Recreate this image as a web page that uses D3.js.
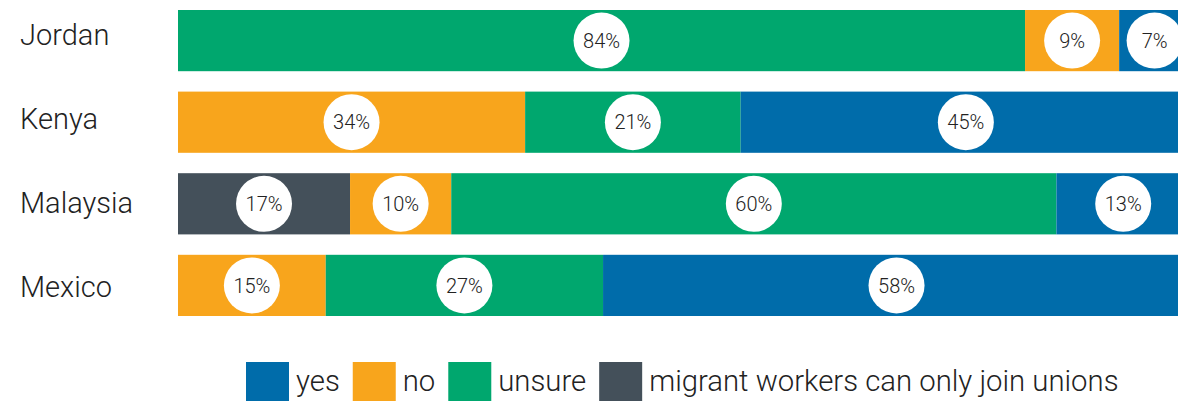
<!DOCTYPE html>
<html>
<head>
<meta charset="utf-8">
<script src="https://cdn.jsdelivr.net/npm/d3@7"></script>
<style>
  body { margin: 0; background: #fff; }
  svg { display: block; font-family: Roboto, "Noto Sans", sans-serif; }
</style>
</head>
<body>
<div id="chart"></div>
<script>
// Data (share of respondents, per country)
const countries = ["Jordan", "Kenya", "Malaysia", "Mexico"];
const keyNames = { yes: "yes", no: "no", unsure: "unsure", migrant: "migrant workers can only join unions" };
// segment order in each bar, left to right
const order = {
  Jordan: ["unsure", "no", "yes"],
  Kenya: ["no", "unsure", "yes"],
  Malaysia: ["migrant", "no", "unsure", "yes"],
  Mexico: ["no", "unsure", "yes"]
};
const yesValues = [7.0, 44.5, 13.2, 58.0];
const noValues = [9.3, 34.3, 10.0, 14.6];
const unsureValues = [83.7, 21.3, 59.8, 27.4];
const migrantValues = [0, 0, 17.0, 0];
const yesLabels = ["7%", "45%", "13%", "58%"];
const noLabels = ["9%", "34%", "10%", "15%"];
const unsureLabels = ["84%", "21%", "60%", "27%"];
const migrantLabels = ["", "", "17%", ""];
const legendOrder = ["yes", "no", "unsure", "migrant"];

const colors = { yes: "#006caa", no: "#f8a51c", unsure: "#00a76e", migrant: "#44505a" };

const width = 1178, height = 401;

const svg = d3.select("#chart")
  .append("svg")
    .attr("width", width)
    .attr("height", height);

const vals = { yes: yesValues, no: noValues, unsure: unsureValues, migrant: migrantValues };
const labs = { yes: yesLabels, no: noLabels, unsure: unsureLabels, migrant: migrantLabels };

// build segments
const segs = [];
countries.forEach((c, i) => {
  let acc = 0;
  order[c].forEach(k => {
    const v = vals[k][i];
    segs.push({ country: c, key: k, x0: acc, x1: acc + v, label: labs[k][i] });
    acc += v;
  });
});

// x scale runs past the right edge (bars are clipped there)
const x = d3.scaleLinear().domain([0, 100]).range([178, 1190]);
const y = d3.scaleBand().domain(countries).range([10, 316]).paddingInner(0.25);
// country names sit on a slightly wider spacing than the bars
const yName = d3.scalePoint().domain(countries).range([35, 287]);

// country names
svg.append("g")
  .selectAll("text")
  .data(countries)
  .join("text")
    .attr("x", 20)
    .attr("y", d => yName(d) + 10)
    .attr("font-size", 29)
    .attr("font-weight", 300)
    .attr("fill", "#222")
    .text(d => d);

// bars
svg.append("g")
  .selectAll("rect")
  .data(segs)
  .join("rect")
    .attr("x", d => x(d.x0))
    .attr("y", d => y(d.country))
    .attr("width", d => x(d.x1) - x(d.x0))
    .attr("height", y.bandwidth())
    .attr("fill", d => colors[d.key]);

// value bubbles
const lab = svg.append("g")
  .selectAll("g")
  .data(segs.filter(d => d.label))
  .join("g")
    .attr("transform", d => `translate(${x((d.x0 + d.x1) / 2)},${y(d.country) + y.bandwidth() / 2})`);

lab.append("circle")
  .attr("r", 28)
  .attr("fill", "#fff");

lab.append("text")
  .attr("text-anchor", "middle")
  .attr("dy", "0.36em")
  .attr("font-size", 20)
  .attr("font-weight", 300)
  .attr("fill", "#222")
  .text(d => d.label);

// legend
const legend = svg.append("g");
let lx = 246;
legendOrder.forEach(k => {
  legend.append("rect")
    .attr("x", lx)
    .attr("y", 362)
    .attr("width", 43)
    .attr("height", 40)
    .attr("fill", colors[k]);
  const t = legend.append("text")
    .attr("x", lx + 50)
    .attr("y", 391)
    .attr("font-size", 29.3)
    .attr("font-weight", 300)
    .attr("fill", "#222")
    .text(keyNames[k]);
  lx += 50 + t.node().getComputedTextLength() + 13;
});
</script>
</body>
</html>
